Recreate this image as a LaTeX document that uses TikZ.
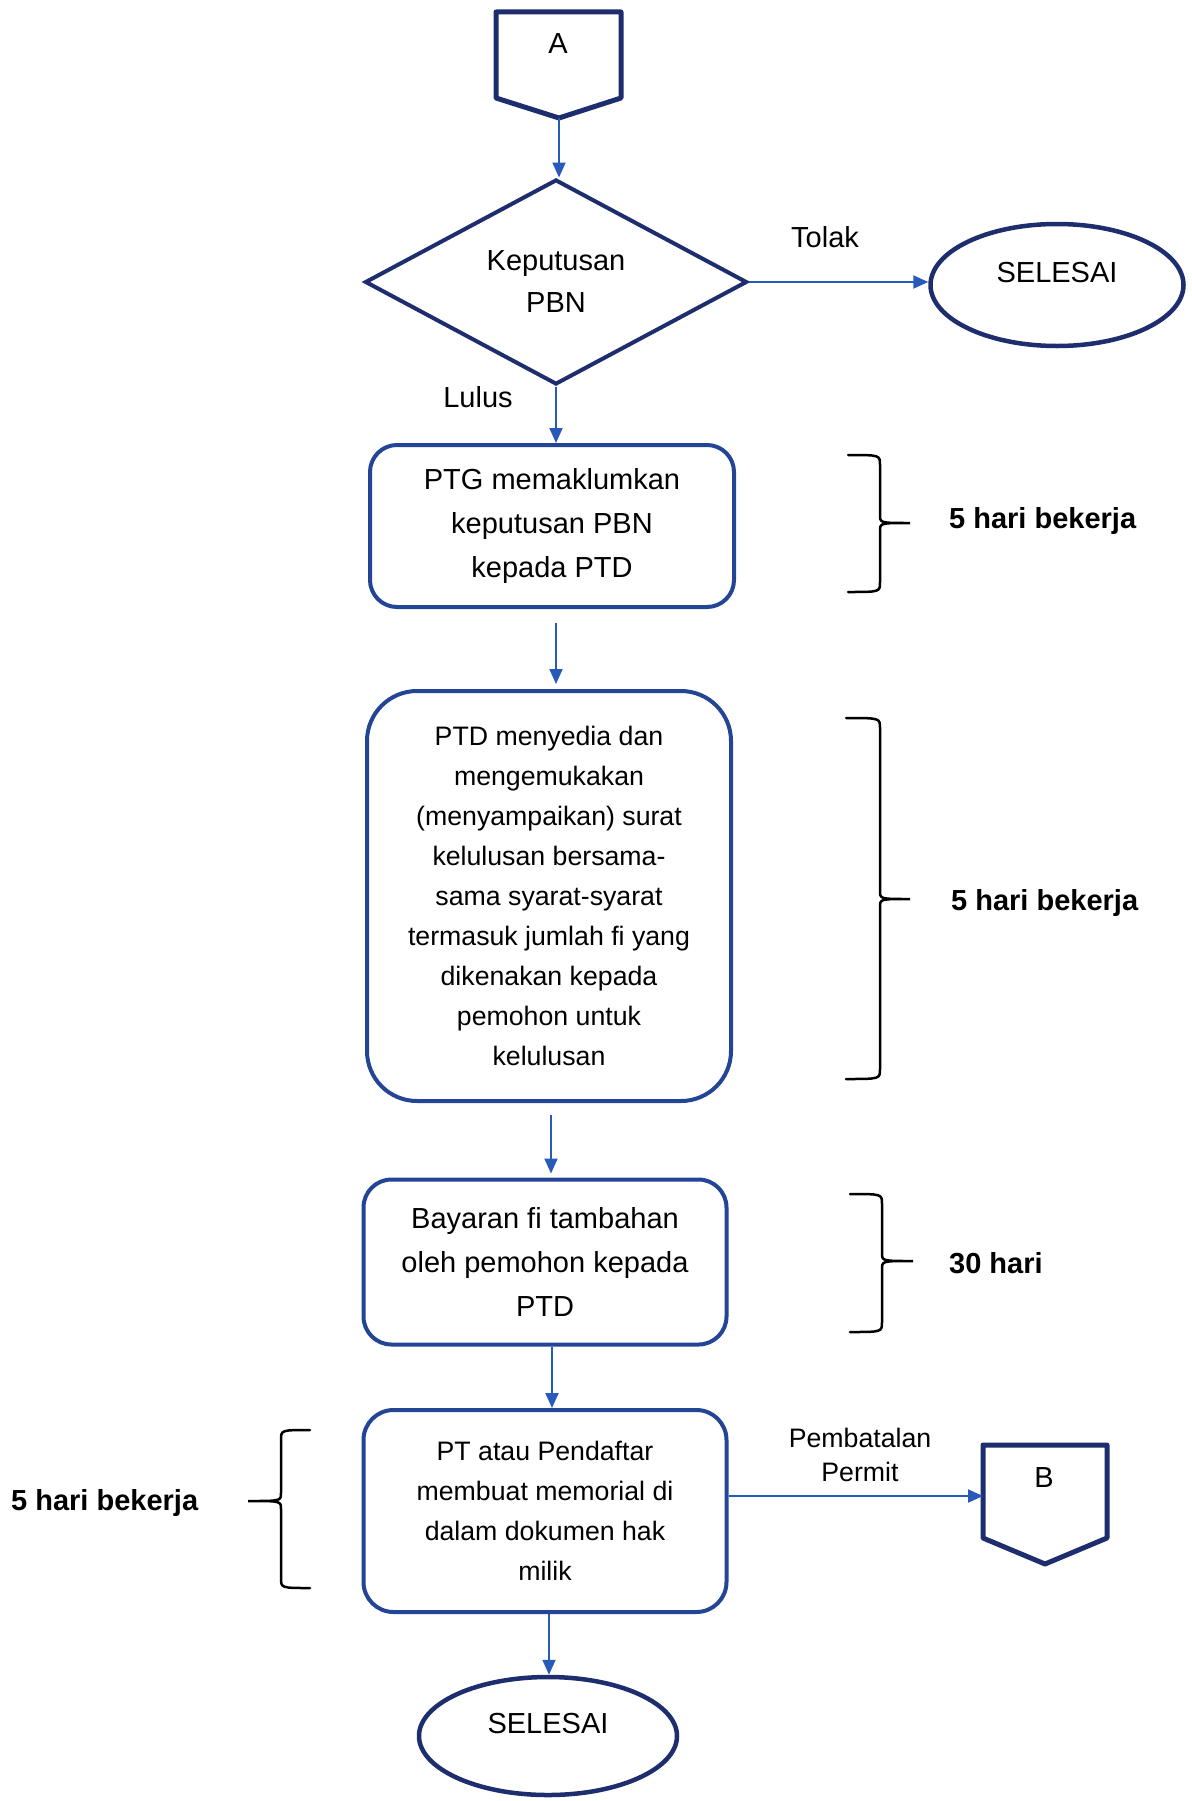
\documentclass[tikz,border=0pt]{standalone}
\usepackage{fontspec}
\setmainfont{Liberation Sans}
\usetikzlibrary{shapes.geometric,arrows.meta,calc}
\definecolor{navy}{RGB}{30,45,110}
\definecolor{boxblue}{RGB}{36,68,150}
\definecolor{arrblue}{RGB}{40,90,185}
\newcommand{\mybrace}[6]{\draw[bracestyle] (#1,#4) .. controls (#2,#4) .. (#2,#4+10) -- (#2,#5-8) .. controls (#2,#5) .. (#3,#5) .. controls (#2,#5) .. (#2,#5+8) -- (#2,#6-10) .. controls (#2,#6) .. (#1,#6);}
\begin{document}
\begin{tikzpicture}[x=1pt,y=-1pt,
  bigfont/.style={font=\fontsize{29}{44}\selectfont},
  smallfont/.style={font=\fontsize{26.7}{40}\selectfont},
  boldfont/.style={font=\fontsize{29}{35}\selectfont\bfseries},
  procbox/.style={draw=boxblue, line width=4pt, rounded corners=#1, fill=white, align=center, inner sep=0pt, minimum width=364pt},
  procbox/.default=26pt,
  termnode/.style={ellipse, draw=navy, line width=4.5pt, fill=white, inner sep=0pt, text height=21pt, text depth=26pt, font=\fontsize{29}{35}\selectfont},
  offpage/.style={draw=navy, line width=5pt, fill=white, line join=round},
  decision/.style={diamond, draw=navy, line width=4pt, fill=white, aspect=1.85, inner sep=0pt, align=center, minimum width=382pt, minimum height=205pt, font=\fontsize{29}{42}\selectfont},
  arr/.style={draw=arrblue, line width=2pt, -{Triangle[length=15pt,width=13pt]}},
  bracestyle/.style={draw=black, line width=2.5pt, line cap=round},
  lbl/.style={inner sep=0pt, font=\fontsize{29}{35}\selectfont},
  lblsmall/.style={inner sep=0pt, align=center, font=\fontsize{26.7}{34}\selectfont}
]
\useasboundingbox (0,0) rectangle (1191,1801);

% off-page connector A
\draw[offpage] (496,12) -- (621,12) -- (621,98) -- (559,118) -- (496,98) -- cycle;
\node[lbl] (lblA) at (558,44) {A};
\coordinate (Apt) at (559,118);

% decision
\node[decision] (dia) at (556,282) {Keputusan\\PBN};
\node[termnode, minimum width=253pt, minimum height=122pt] (sel1) at (1057,285) {SELESAI};

\node[lbl] (tolak) at (825,237) {Tolak};
\node[lbl] (lulus) at (478,397) {Lulus};

% process boxes
\node[procbox=27pt, bigfont, minimum height=162pt] (b1) at (552,526) {PTG memaklumkan\\keputusan PBN\\kepada PTD};
\node[procbox=50pt, smallfont, minimum height=410pt] (b2) at (549,896) {PTD menyedia dan\\mengemukakan\\(menyampaikan) surat\\kelulusan bersama-\\sama syarat-syarat\\termasuk jumlah fi yang\\dikenakan kepada\\pemohon untuk\\kelulusan};
\node[procbox=28pt, bigfont, minimum height=165pt, minimum width=363pt] (b3) at (545,1262) {Bayaran fi tambahan\\oleh pemohon kepada\\PTD};
\node[procbox=30pt, smallfont, minimum height=202pt, minimum width=363pt] (b4) at (545,1511) {PT atau Pendaftar\\membuat memorial di\\dalam dokumen hak\\milik};

% off-page connector B
\draw[offpage] (983,1445) -- (1107,1445) -- (1107,1538) -- (1045,1564) -- (983,1538) -- cycle;
\node[lbl] (lblB) at (1044,1478) {B};
\coordinate (Bw) at (983,1496);

\node[lblsmall] (pemb) at (860,1455) {Pembatalan\\Permit};

% final terminator
\node[termnode, minimum width=258pt, minimum height=118pt] (sel2) at (548,1736) {SELESAI};

% braces and durations
\mybrace{848}{880}{910}{455}{523}{592}
\node[lbl, anchor=west, boldfont] (d1) at (949,521) {5 hari bekerja};
\mybrace{846}{880}{910}{718}{899}{1079}
\node[lbl, anchor=west, boldfont] (d2) at (951,903) {5 hari bekerja};
\mybrace{850}{882}{913}{1194}{1261}{1332}
\node[lbl, anchor=west, boldfont] (d3) at (949,1263) {30 hari};
\mybrace{310}{281}{248}{1430}{1501}{1588}
\node[lbl, anchor=west, boldfont] (d4) at (11,1503) {5 hari bekerja};

% connectors
\draw[arr] (Apt) -- (Apt |- dia.north);
\draw[arr] (dia.east) -- (dia.east -| sel1.west);
\draw[arr] (dia.south) -- (dia.south |- b1.north);
\draw[arr, shorten <=14pt, shorten >=5pt] (b1.south -| dia.south) -- (b2.north -| dia.south);
\draw[arr, shorten <=12pt, shorten >=4pt] ($(b2.south)+(2,0)$) -- ($(b2.south |- b3.north)+(2,0)$);
\draw[arr] ($(b3.south)+(7,0)$) -- ($(b3.south |- b4.north)+(7,0)$);
\draw[arr] (b4.east |- Bw) -- (Bw);
\draw[arr] ($(b4.south)+(4,0)$) -- ($(b4.south |- sel2.north)+(4,0)$);
\end{tikzpicture}
\end{document}
